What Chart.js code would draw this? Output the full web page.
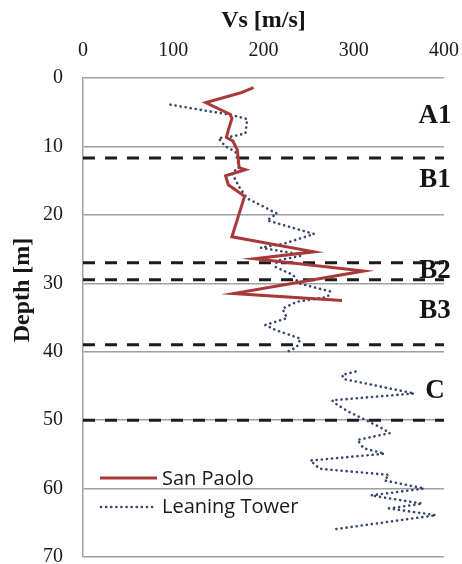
<!DOCTYPE html>
<html>
<head>
<meta charset="utf-8">
<script src="https://cdn.jsdelivr.net/npm/chart.js@4.4.1/dist/chart.umd.min.js"></script>
<style>
	html, body { margin: 0; padding: 0; background: #fff; }
	#wrap { width: 462px; height: 564px; }
</style>
</head>
<body>
<div id="wrap"><canvas id="perfil"></canvas></div>
<script>
	// San Paolo profile (Vs in m/s vs depth in m)
	var sanPaoloVs = [189, 174, 136, 163, 165, 160, 159, 166, 171, 173, 180, 158, 161, 179, 165, 256, 190, 311, 167, 287];
	var sanPaoloDepth = [1.4, 2.2, 3.6, 5.3, 5.9, 8.1, 8.7, 9.2, 10.5, 13.1, 13.4, 14.3, 15.6, 17.3, 23.2, 25.4, 26.4, 28.2, 31.5, 32.5];

	// Leaning Tower profile, null = gap between 40 and 43 m
	var torreVs = [97, 141, 161, 182, 180, 163, 150, 158, 169, 173, 165, 173, 182, 215, 204, 256, 223, 197, 237, 241, 215, 213, 233, 239, 274, 271, 237, 221, 226, 202, 213, 241, 237, 228,
		null,
		302, 287, 289, 304, 367, 276, 282, 295, 330, 340, 304, 311, 334, 252, 262, 339, 334, 378, 319, 376, 339, 391, 276];
	var torreDepth = [3.9, 4.9, 5.3, 6.0, 8.1, 8.6, 8.8, 10.0, 10.8, 13.0, 13.9, 15.9, 17.6, 19.8, 20.8, 22.8, 24.2, 24.8, 25.7, 26.0, 26.7, 27.6, 28.8, 30.0, 31.2, 32.0, 32.7, 33.7, 35.1, 36.1, 36.8, 38.1, 39.3, 39.9,
		null,
		42.9, 43.4, 44.0, 44.4, 46.1, 47.1, 47.8, 48.8, 51.1, 51.9, 52.9, 54.1, 54.9, 55.9, 57.1, 58.0, 58.8, 60.0, 61.0, 62.2, 62.9, 63.9, 66.0];

	// layer boundaries (dashed) and layer names
	var limitesCapas = [11.7, 27.0, 29.5, 39.0, 50.0];
	var nombresCapas = ['A1', 'B1', 'B2', 'B3', 'C'];
	var profCapas = [5.5, 14.9, 28.2, 34.1, 45.8];
	var vsEtiquetas = 390;

	var xTicks = [0, 100, 200, 300, 400];
	var yTicks = [0, 10, 20, 30, 40, 50, 60, 70];

	function puntos(xs, ys) {
		return xs.map(function (v, i) { return { x: v, y: ys[i] }; });
	}

	var datasets = [
		{
			label: 'San Paolo',
			data: puntos(sanPaoloVs, sanPaoloDepth),
			borderColor: '#a8383a',
			borderWidth: 3,
			order: 0,
		},
		{
			label: 'Leaning Tower',
			data: puntos(torreVs, torreDepth),
			borderColor: '#34466b',
			borderWidth: 2.6,
			borderDash: [0.1, 5],
			borderCapStyle: 'round',
			order: 1,
		},
	];

	limitesCapas.forEach(function (d) {
		datasets.push({
			label: 'limite',
			data: [{ x: xTicks[0], y: d }, { x: xTicks[xTicks.length - 1], y: d }],
			borderColor: '#1c1c1c',
			borderWidth: 3,
			borderDash: [12, 10],
			order: 5,
		});
	});

	var textos = {
		id: 'textos',
		afterDraw: function (chart) {
			var ctx = chart.ctx;
			var xs = chart.scales.x;
			var ys = chart.scales.y;
			ctx.save();
			ctx.fillStyle = '#151515';
			ctx.textAlign = 'center';
			ctx.textBaseline = 'middle';

			ctx.font = 'bold 27px "Liberation Serif"';
			nombresCapas.forEach(function (n, i) {
				ctx.fillText(n, xs.getPixelForValue(vsEtiquetas), ys.getPixelForValue(profCapas[i]));
			});

			// y axis title
			ctx.save();
			ctx.translate(23, 290);
			ctx.rotate(-Math.PI / 2);
			ctx.font = 'bold 24px "Liberation Serif"';
			ctx.fillText('Depth [m]', 0, 0);
			ctx.restore();

			// legend
			var lx = chart.chartArea.left + 17;
			ctx.lineWidth = 3;
			ctx.strokeStyle = '#a8383a';
			ctx.beginPath();
			ctx.moveTo(lx, 478);
			ctx.lineTo(lx + 57, 478);
			ctx.stroke();

			ctx.lineWidth = 2.6;
			ctx.lineCap = 'round';
			ctx.setLineDash([0.1, 5]);
			ctx.strokeStyle = '#34466b';
			ctx.beginPath();
			ctx.moveTo(lx + 1, 507);
			ctx.lineTo(lx + 54, 507);
			ctx.stroke();
			ctx.setLineDash([]);

			ctx.font = '20px "Open Sans"';
			ctx.textAlign = 'left';
			ctx.fillStyle = '#1a1a1a';
			ctx.fillText('San Paolo', lx + 62, 479);
			ctx.fillText('Leaning Tower', lx + 62, 507);
			ctx.restore();
		}
	};

	new Chart(document.getElementById('perfil'), {
		type: 'scatter',
		data: { datasets: datasets },
		plugins: [textos],
		options: {
			responsive: true,
			maintainAspectRatio: false,
			animation: false,
			showLine: true,
			spanGaps: false,
			elements: {
				point: { radius: 0, hoverRadius: 0 },
				line: { tension: 0, fill: false },
			},
			layout: { padding: { left: 0, top: 0, right: 18, bottom: 7 } },
			plugins: {
				legend: { display: false },
				tooltip: { enabled: false },
			},
			scales: {
				x: {
					type: 'linear',
					position: 'top',
					min: 0,
					max: 400,
					afterFit: function (s) {
						s.height = 78;
						s.paddingLeft = 0;
						s.paddingRight = 0;
					},
					afterBuildTicks: function (s) { s.ticks = xTicks.map(function (v) { return { value: v }; }); },
					grid: { display: false, drawTicks: false },
					border: { display: false },
					ticks: {
						padding: 15,
						color: '#1a1a1a',
						font: { family: 'Liberation Serif', size: 20 },
						maxRotation: 0,
					},
					title: {
						display: true,
						text: 'Vs [m/s]',
						color: '#151515',
						font: { family: 'Liberation Serif', size: 24, weight: 'bold' },
						padding: { top: 6, bottom: 0 },
					},
				},
				y: {
					type: 'linear',
					reverse: true,
					min: 0,
					max: 70,
					afterFit: function (s) {
						s.width = 83;
						s.paddingTop = 0;
						s.paddingBottom = 0;
					},
					afterBuildTicks: function (s) { s.ticks = yTicks.map(function (v) { return { value: v }; }); },
					grid: { color: '#a0a0a0', lineWidth: 1.5, drawTicks: false },
					border: { display: true, color: '#a0a0a0', width: 1.5 },
					ticks: {
						padding: 20,
						color: '#1a1a1a',
						font: { family: 'Liberation Serif', size: 20 },
					},
				},
			},
		},
	});
</script>
</body>
</html>
